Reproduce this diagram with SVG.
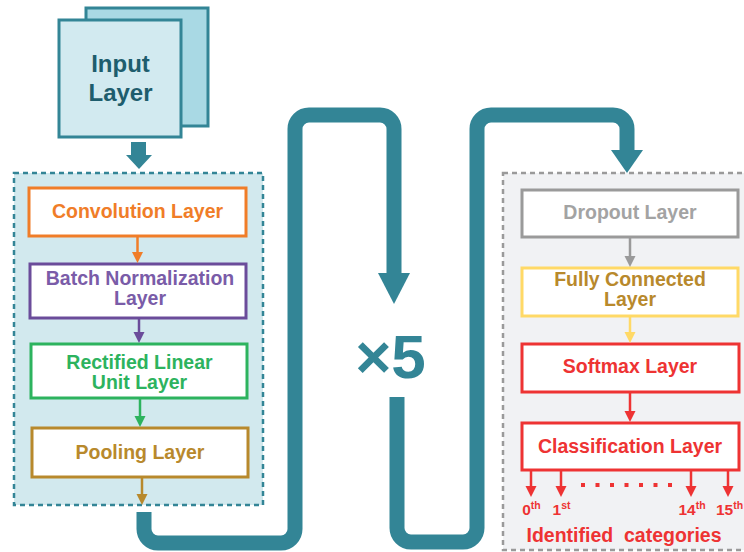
<svg xmlns="http://www.w3.org/2000/svg" width="744" height="552" viewBox="0 0 744 552">
<style>
text{font-family:"Liberation Sans",Arial,sans-serif;font-weight:bold;text-anchor:middle}
.box{fill:#fff;stroke-width:3}
.snake{fill:none;stroke:#338596;stroke-width:15}
.ln{stroke-width:2.5;fill:none}
.lbl{font-size:19.5px}
</style>
<rect width="744" height="552" fill="#fff"/>
<g id="group-cnn">
<rect x="14" y="173" width="249" height="332" fill="#d2e9ee" stroke="#338596" stroke-width="2.5" stroke-dasharray="5 4"/>
</g>
<g id="group-cls">
<rect x="503" y="173" width="250" height="377" fill="#f1f2f4" stroke="#9a9a9a" stroke-width="2.5" stroke-dasharray="5 4"/>
</g>
<g id="input">
<rect x="86" y="8" width="122" height="118" fill="#a9d9e4" stroke="#338596" stroke-width="3"/>
<rect x="59" y="20" width="122" height="117" fill="#d2eaf0" stroke="#338596" stroke-width="3"/>
<text x="120.5" y="72" font-size="24" fill="#1e5d6d">Input</text>
<text x="120.5" y="101" font-size="24" fill="#1e5d6d">Layer</text>
</g>
<g id="conv">
<rect class="box" x="29" y="188" width="217" height="48" stroke="#f07d28"/>
<text class="lbl" x="137.5" y="218" fill="#f07d28">Convolution Layer</text>
</g>
<g id="bn">
<rect class="box" x="30" y="264" width="216" height="54" stroke="#6b4c9a"/>
<text class="lbl" x="140" y="285" fill="#7a5ca8">Batch Normalization</text>
<text class="lbl" x="140" y="305" fill="#7a5ca8">Layer</text>
</g>
<g id="relu">
<rect class="box" x="31" y="344" width="216" height="54" stroke="#2db35e"/>
<text class="lbl" x="139.5" y="369" fill="#2db35e">Rectified Linear</text>
<text class="lbl" x="139.5" y="389" fill="#2db35e">Unit Layer</text>
</g>
<g id="pool">
<rect class="box" x="32" y="428" width="216" height="49" stroke="#b8892c"/>
<text class="lbl" x="140" y="459" fill="#b8892c">Pooling Layer</text>
</g>
<g id="dropout">
<rect class="box" x="522" y="190" width="216" height="47" stroke="#9a9a9a"/>
<text class="lbl" x="630" y="219" fill="#a3a3a3">Dropout Layer</text>
</g>
<g id="fc">
<rect class="box" x="522" y="268" width="216" height="48" stroke="#ffd966"/>
<text class="lbl" x="630" y="286" fill="#b8892c">Fully Connected</text>
<text class="lbl" x="630" y="306" fill="#b8892c">Layer</text>
</g>
<g id="softmax">
<rect class="box" x="522" y="344" width="217" height="48" stroke="#ee3333"/>
<text class="lbl" x="630" y="373" fill="#ee3333">Softmax Layer</text>
</g>
<g id="classification">
<rect class="box" x="522" y="423" width="217" height="47" stroke="#ee3333"/>
<text class="lbl" x="630" y="453" fill="#ee3333">Classification Layer</text>
</g>
<g id="repeat">
<text x="390.5" y="378" font-size="62" fill="#338596">×5</text>
</g>
<g id="outputs" fill="#ee3333">
<g font-size="15.5">
<text x="531.5" y="515">0<tspan font-size="10.5" dy="-6">th</tspan></text>
<text x="561.5" y="515">1<tspan font-size="10.5" dy="-6">st</tspan></text>
<text x="692" y="515">14<tspan font-size="10.5" dy="-6">th</tspan></text>
<text x="729.5" y="515">15<tspan font-size="10.5" dy="-6">th</tspan></text>
</g>
<text x="624" y="542" font-size="19.5" xml:space="preserve">Identified  categories</text>
<rect x="581" y="483" width="4" height="4"/>
<rect x="595.5" y="483" width="4" height="4"/>
<rect x="610" y="483" width="4" height="4"/>
<rect x="624.5" y="483" width="4" height="4"/>
<rect x="639" y="483" width="4" height="4"/>
<rect x="653.5" y="483" width="4" height="4"/>
<rect x="668" y="483" width="4" height="4"/>
</g>
<g id="connectors">
<rect x="131" y="142" width="15" height="14" fill="#338596"/>
<polygon points="126,155 152,155 139,169" fill="#338596"/>
<path class="snake" d="M144,512 V529 A14,14 0 0 0 158,543 H281 A14,14 0 0 0 295,529 V129 A14,14 0 0 1 309,115 H380 A14,14 0 0 1 394,129 V274"/>
<polygon points="378,273 410,273 394,304" fill="#338596"/>
<path class="snake" d="M397,397 V528 A14,14 0 0 0 411,542 H463 A14,14 0 0 0 477,528 V129 A14,14 0 0 1 491,115 H613 A14,14 0 0 1 627,129 V151"/>
<polygon points="611,150 643,150 627,173" fill="#338596"/>
<line class="ln" x1="137.5" y1="236" x2="137.5" y2="253" stroke="#f07d28"/>
<polygon points="132,252 143,252 137.5,263" fill="#f07d28"/>
<line class="ln" x1="139" y1="318" x2="139" y2="333" stroke="#6b4c9a"/>
<polygon points="133.5,332 144.5,332 139,343" fill="#6b4c9a"/>
<line class="ln" x1="140" y1="398" x2="140" y2="417" stroke="#2db35e"/>
<polygon points="134.5,416 145.5,416 140,427" fill="#2db35e"/>
<line class="ln" x1="142" y1="477" x2="142" y2="495" stroke="#b8892c"/>
<polygon points="136.5,494 147.5,494 142,505" fill="#b8892c"/>
<line class="ln" x1="630" y1="237" x2="630" y2="257" stroke="#9a9a9a"/>
<polygon points="624.5,256 635.5,256 630,267" fill="#9a9a9a"/>
<line class="ln" x1="630" y1="316" x2="630" y2="333" stroke="#ffd966"/>
<polygon points="624.5,332 635.5,332 630,343" fill="#ffd966"/>
<line class="ln" x1="630" y1="392" x2="630" y2="412" stroke="#ee3333"/>
<polygon points="624.5,411 635.5,411 630,422" fill="#ee3333"/>
<g stroke="#ee3333">
<line class="ln" x1="531" y1="470" x2="531" y2="487"/>
<line class="ln" x1="561" y1="470" x2="561" y2="487"/>
<line class="ln" x1="691" y1="470" x2="691" y2="487"/>
<line class="ln" x1="728" y1="470" x2="728" y2="487"/>
</g>
<g fill="#ee3333">
<polygon points="525.5,486 536.5,486 531,497"/>
<polygon points="555.5,486 566.5,486 561,497"/>
<polygon points="685.5,486 696.5,486 691,497"/>
<polygon points="722.5,486 733.5,486 728,497"/>
</g>
</g>
</svg>
